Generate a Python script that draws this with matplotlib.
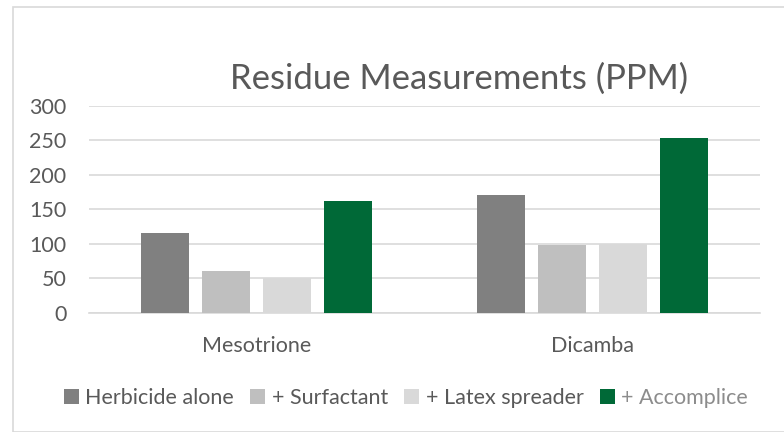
import matplotlib
matplotlib.use("Agg")
import matplotlib.pyplot as plt
import numpy as np
from matplotlib.patches import Rectangle

categories = ["Mesotrione", "Dicamba"]
series_names = ["Herbicide alone", "+ Surfactant", "+ Latex spreader", "+ Accomplice"]
herbicide_alone = [116, 171]
surfactant = [60, 98]
latex_spreader = [50, 100]
accomplice = [162, 254]
series_values = [herbicide_alone, surfactant, latex_spreader, accomplice]
colors = ["#808080", "#bfbfbf", "#d9d9d9", "#006937"]
yticks = [0, 50, 100, 150, 200, 250, 300]

plt.rcParams['font.family'] = ['Lato', 'DejaVu Sans']

fig = plt.figure(figsize=(7.84, 4.32), dpi=100)
fig.patch.set_facecolor("white")
# chart border
fig.patches.append(Rectangle((13/784, 0), 1.0, 1 - 7/432, transform=fig.transFigure,
                             fill=False, edgecolor="#d9d9d9", linewidth=1.2))

ax = fig.add_axes([88.7/784, 119.3/432, (760-88.7)/784, (312.7-106)/432])
x = np.arange(len(categories))
step = 61/335.6
width = 48/335.6
handles = []
for i, (vals, c) in enumerate(zip(series_values, colors)):
    b = ax.bar(x + (i - 1.5) * step, vals, width=width, color=c, zorder=3,
               label=series_names[i])
    handles.append(b)

ax.set_xlim(-0.5, 1.5)
ax.set_ylim(0, 300)
ax.set_yticks(yticks)
ax.set_xticks(x)
ax.set_xticklabels(categories)
ax.grid(axis="y", color="#d9d9d9", linewidth=1.2, zorder=0)
for s in ["top", "right", "left"]:
    ax.spines[s].set_visible(False)
ax.spines["bottom"].set_color("#d9d9d9")
ax.spines["bottom"].set_linewidth(1.2)
ax.tick_params(axis="both", length=0, labelsize=15.5, labelcolor="#595959")
ax.tick_params(axis="y", pad=16)
ax.tick_params(axis="x", pad=17)

fig.text(459/784, 1 - 79/432, "Residue Measurements (PPM)", ha="center", va="center",
         fontsize=25, color="#595959")

leg = fig.legend(handles=handles, labels=series_names, loc="center",
                 bbox_to_anchor=(406/784, 1 - 398/432), ncol=4, frameon=False,
                 fontsize=15.5, handlelength=0.7, handleheight=0.7,
                 handletextpad=0.3, columnspacing=0.75)
for t in leg.get_texts():
    t.set_color("#595959")
leg.get_texts()[3].set_color("#8c8c8c")

fig.savefig("out.png", dpi=100)
